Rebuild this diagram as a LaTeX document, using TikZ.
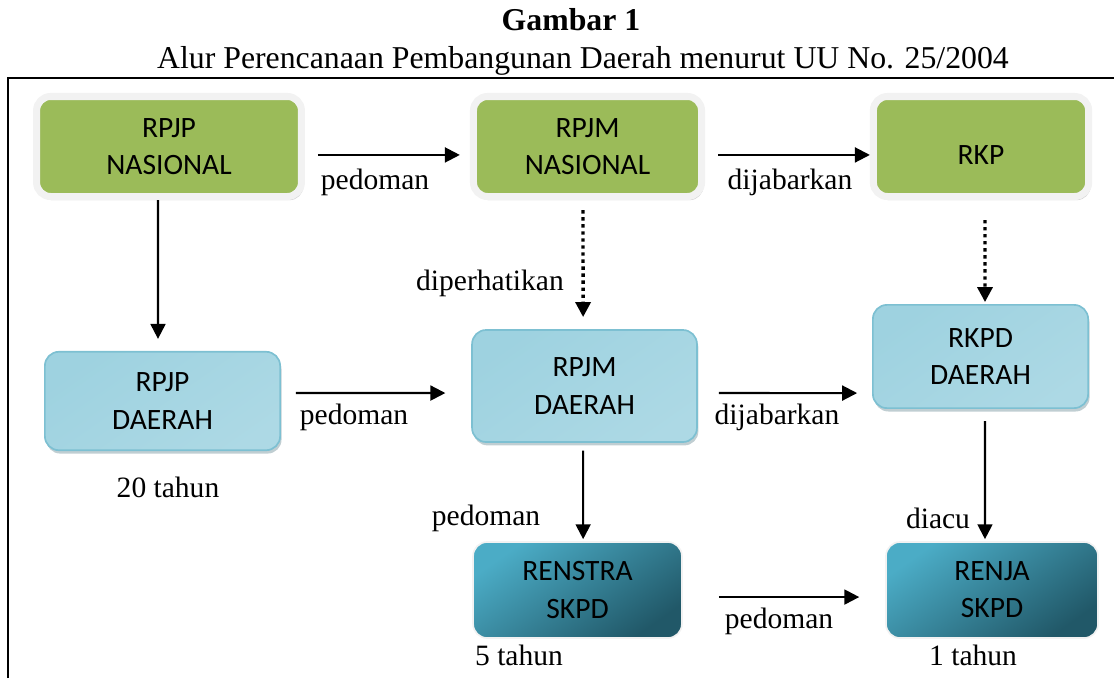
\documentclass[tikz,border=0pt]{standalone}
\usepackage{fontspec}
\setmainfont{Liberation Serif}
\newfontfamily\boxfont{Carlito}
\usetikzlibrary{arrows.meta, shadows}

\definecolor{hijau}{RGB}{155,187,89}
\definecolor{birutua}{RGB}{158,210,224}
\definecolor{birumuda}{RGB}{224,241,246}
\definecolor{birugaris}{RGB}{125,192,210}
\definecolor{tosca}{RGB}{75,172,198}
\definecolor{toscagelap}{RGB}{33,88,104}

\tikzset{
    kotak/.style={align=center, font=\boxfont\fontsize{10.5}{13.2}\selectfont, rounded corners=5pt},
    hijaubox/.style={kotak, fill=hijau, draw=white!90!gray, line width=2.5pt,
        drop shadow={shadow xshift=0.7pt, shadow yshift=-1.3pt, fill=black!35}},
    birubox/.style={kotak, draw=birugaris, line width=0.6pt,
        top color=birutua, middle color=birumuda, bottom color=birutua!85!white, shading angle=35,
        drop shadow={shadow xshift=0.5pt, shadow yshift=-1.2pt, fill=birugaris!60!black!70}},
    toscabox/.style={kotak, draw=white!90!gray, line width=0.6pt,
        top color=tosca, bottom color=toscagelap, shading angle=35},
    ket/.style={font=\fontsize{10.5}{12}\selectfont, inner sep=0pt},
    panah/.style={-{Triangle[length=5.3pt, width=5.3pt]}, line width=0.75pt},
    titik/.style={panah, line width=1.2pt, dash pattern=on 1.2pt off 1.3pt}
}

\begin{document}
\begin{tikzpicture}[x=0.0125cm, y=-0.0125cm]
    \useasboundingbox (0,0) rectangle (1114,678);

    \node[font=\bfseries\fontsize{11.3}{13}\selectfont] (judul) at (571,20) {Gambar 1};
    \node[font=\fontsize{11.3}{13}\selectfont] (subjudul) at (583,61) {Alur Perencanaan Pembangunan Daerah menurut UU No. 25/2004};
    \draw[line width=0.6pt] (8,678) -- (8,78) -- (1114,78);

    % nasional
    \node[hijaubox, minimum width=3.31cm, minimum height=1.25cm] (rpjpn) at (169,146.5) {RPJP\\NASIONAL};
    \node[hijaubox, minimum width=2.85cm, minimum height=1.25cm] (rpjmn) at (587.5,146.5) {RPJM\\NASIONAL};
    \node[hijaubox, minimum width=2.69cm, minimum height=1.25cm] (rkp) at (981,146.5) {\raisebox{-3pt}[6.8pt][0pt]{RKP}};

    % daerah
    \node[birubox, minimum width=2.94cm, minimum height=1.23cm] (rpjpd) at (162.5,401) {RPJP\\DAERAH};
    \node[birubox, minimum width=2.81cm, minimum height=1.40cm] (rpjmd) at (584.5,386) {RPJM\\DAERAH};
    \node[birubox, minimum width=2.69cm, minimum height=1.29cm] (rkpd) at (980.5,356.5) {RKPD\\DAERAH};

    % skpd
    \node[toscabox, minimum width=2.61cm, minimum height=1.2cm] (renstra) at (577.5,590) {RENSTRA\\SKPD};
    \node[toscabox, minimum width=2.65cm, minimum height=1.2cm] (renja) at (992,590) {RENJA\\SKPD};

    \draw[panah] ([xshift=4.6pt, yshift=-3pt]rpjpn.east) -- ([xshift=-3.6pt, yshift=-3pt]rpjmn.west);
    \draw[panah] ([xshift=4.6pt, yshift=-3pt]rpjmn.east) -- ([yshift=-3pt]rkp.west);
    \draw[panah] ([xshift=-3.9pt]rpjpn.south) -- ([xshift=-1.6pt, yshift=4.3pt]rpjpd.north);
    \draw[titik] ([xshift=-1.6pt, yshift=-3.6pt]rpjmn.south) -- ([xshift=-0.5pt, yshift=4.3pt]rpjmd.north);
    \draw[titik] ([xshift=1.4pt, yshift=-7.1pt]rkp.south) -- ([xshift=1.6pt, yshift=0.7pt]rkpd.north);
    \draw[panah] ([xshift=5.3pt, yshift=2.85pt]rpjpd.east) -- ([xshift=-9.2pt, yshift=-2.5pt]rpjmd.west);
    \draw[panah] ([xshift=7.5pt, yshift=-2.5pt]rpjmd.east) -- ([xshift=-5.3pt, yshift=-13pt]rkpd.west);
    \draw[panah] ([xshift=-0.5pt, yshift=-2.8pt]rpjmd.south) -- ([xshift=2pt, yshift=0.7pt]renstra.north);
    \draw[panah] ([xshift=1.6pt, yshift=-4.3pt]rkpd.south) -- ([xshift=-2.5pt, yshift=0.7pt]renja.north);
    \draw[panah] ([xshift=12.8pt, yshift=-2.5pt]renstra.east) -- ([xshift=-9.2pt, yshift=-2.5pt]renja.west);

    \node[ket] (k1) at (375,182) {pedoman};
    \node[ket] (k2) at (790,182) {dijabarkan};
    \node[ket] (k3) at (490,283) {diperhatikan};
    \node[ket] (k4) at (354,417) {pedoman};
    \node[ket] (k5) at (777,417) {dijabarkan};
    \node[ket] (k6) at (486,518) {pedoman};
    \node[ket] (k7) at (938,518) {diacu};
    \node[ket] (k8) at (779,621) {pedoman};
    \node[ket] (t20) at (168,487) {20 tahun};
    \node[ket] (t5) at (519,655) {5 tahun};
    \node[ket] (t1) at (973,655) {1 tahun};
\end{tikzpicture}
\end{document}
